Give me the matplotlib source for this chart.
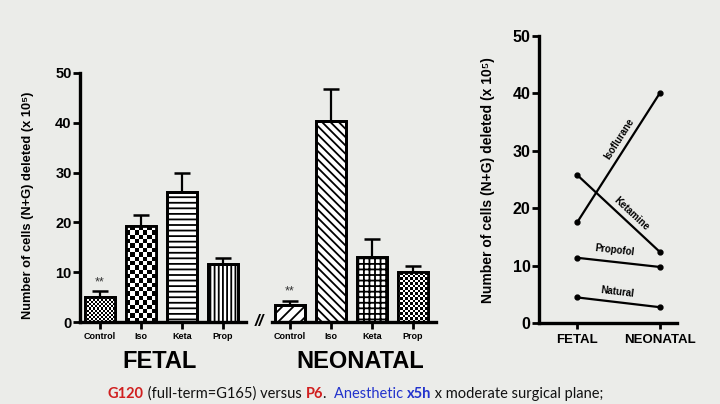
import numpy as np
import matplotlib
matplotlib.use('Agg')
import matplotlib.pyplot as plt

plt.rcParams['font.family'] = ['Liberation Sans', 'DejaVu Sans']
plt.rcParams['font.weight'] = 'bold'
plt.rcParams['axes.labelweight'] = 'bold'
plt.rcParams['hatch.linewidth'] = 1.3

BG = '#ebece9'
W, H = 720, 404

# bar chart data (x 10^5 cells)
groups = ['Control', 'Iso', 'Keta', 'Prop']
fetal_mean = [5.0, 19.2, 26.1, 11.6]
fetal_err = [1.2, 2.3, 3.9, 1.2]
neo_mean = [3.5, 40.3, 13.1, 10.0]
neo_err = [0.8, 6.4, 3.6, 1.2]

# line chart data
stages = ['FETAL', 'NEONATAL']
drugs = ['Natural', 'Propofol', 'Ketamine', 'Isoflurane']
fetal_vals = [4.5, 11.4, 25.8, 17.6]
neo_vals = [2.8, 9.8, 12.4, 40.1]

YLABEL = 'Number of cells (N+G) deleted (x 10\u2075)'

fig = plt.figure(figsize=(W / 100, H / 100), dpi=100, facecolor=BG)


def px_axes(left, right, top, bottom):
    return fig.add_axes([left / W, (H - bottom) / H, (right - left) / W, (bottom - top) / H])


def checker(ax, bar, cell):
    # checkerboard fill clipped to the bar
    ax.figure.canvas.draw()
    x0, h = bar.get_x(), bar.get_height()
    x1 = x0 + bar.get_width()
    p0 = ax.transData.transform((x0, 0))
    p1 = ax.transData.transform((x1, h))
    cols = max(1, int(round((p1[0] - p0[0]) / cell)))
    rows = max(1, int(round((p1[1] - p0[1]) / cell)))
    pat = np.indices((rows, cols)).sum(axis=0) % 2
    im = ax.imshow(pat, cmap='gray', extent=(x0, x1, 0, h), origin='lower',
                   interpolation='nearest', aspect='auto', zorder=2.5)
    im.set_clip_path(bar)


def bar_panel(ax, means, errs, hatches, show_left):
    x = np.arange(len(groups))
    ax.set_facecolor('none')
    ax.set_autoscale_on(False)
    ax.set_ylim(0, 50)
    bars = ax.bar(x, means, width=0.72, color='white', edgecolor='black',
                  linewidth=2.0, zorder=2)
    for b, h in zip(bars, hatches):
        if isinstance(h, str):
            b.set_hatch(h)
    for b, h in zip(bars, hatches):
        if not isinstance(h, str):
            checker(ax, b, h)
    ax.bar(x, means, width=0.72, fill=False, edgecolor='black', linewidth=2.0, zorder=3)
    ax.errorbar(x, means, yerr=[np.zeros(len(errs)), errs], fmt='none', ecolor='black',
                elinewidth=1.6, capsize=5.5, capthick=1.8, zorder=1)
    ax.annotate('**', (x[0], means[0] + errs[0]), xytext=(0, 2), textcoords='offset points',
                ha='center', va='bottom', fontsize=9, fontweight='normal', color='#333333')
    ax.set_xticks(x)
    ax.set_xticklabels(groups)
    for s in ['top', 'right']:
        ax.spines[s].set_visible(False)
    ax.spines['bottom'].set_linewidth(2.4)
    ax.spines['left'].set_linewidth(2.4)
    ax.tick_params(axis='x', length=5, width=2, pad=2, labelsize=6.5)
    ax.tick_params(axis='y', length=5, width=2, pad=1, labelsize=10.5)
    ax.set_yticks(range(0, 51, 10))
    if not show_left:
        ax.spines['left'].set_visible(False)
        ax.tick_params(axis='y', left=False, labelleft=False)


# fetal bars
ax1 = px_axes(80, 246, 73, 322)
ax1.set_xlim(-0.488, 3.56)
bar_panel(ax1, fetal_mean, fetal_err, [2.0, 4.3, '---', '||||'], True)
ax1.set_ylabel(YLABEL, fontsize=9.3)
ax1.yaxis.set_label_coords(-0.28, 0.47)

# neonatal bars
ax2 = px_axes(272, 436, 73, 322)
ax2.set_xlim(-0.44, 3.56)
bar_panel(ax2, neo_mean, neo_err, ['///', '\\\\\\\\', '+++', 2.5], False)

fig.text(259 / W, 1 - 321 / H, '//', fontsize=12, style='italic', ha='center', va='center')
fig.text(160 / W, 1 - 362 / H, 'FETAL', fontsize=17, ha='center', va='center')
fig.text(360 / W, 1 - 362 / H, 'NEONATAL', fontsize=17, ha='center', va='center')

# line chart
ax3 = px_axes(539, 677, 36, 323.3)
ax3.set_facecolor('none')
ax3.set_xlim(-0.463, 1.206)
ax3.set_ylim(0, 50)
label_pos = {'Natural': (0.48, 4.6), 'Propofol': (0.45, 11.9),
             'Ketamine': (0.62, 18.4), 'Isoflurane': (0.56, 31.6)}
for name, f, n in zip(drugs, fetal_vals, neo_vals):
    ax3.plot([0, 1], [f, n], color='black', lw=1.6, marker='o', ms=3.5)
fig.canvas.draw()
for name, f, n in zip(drugs, fetal_vals, neo_vals):
    p0 = ax3.transData.transform((0, f))
    p1 = ax3.transData.transform((1, n))
    ang = np.degrees(np.arctan2(p1[1] - p0[1], p1[0] - p0[0]))
    ax3.text(*label_pos[name], name, fontsize=7, rotation=ang, rotation_mode='anchor',
             ha='center', va='bottom')
ax3.set_xticks([0, 1])
ax3.set_xticklabels(stages)
ax3.set_yticks(range(0, 51, 10))
for s in ['top', 'right']:
    ax3.spines[s].set_visible(False)
ax3.spines['bottom'].set_linewidth(2.4)
ax3.spines['left'].set_linewidth(2.4)
ax3.tick_params(axis='x', length=4, width=2, pad=4, labelsize=9.5)
ax3.tick_params(axis='y', length=5, width=2, pad=1, labelsize=11.5)
ax3.set_ylabel(YLABEL, fontsize=10)
ax3.yaxis.set_label_coords(-0.32, 0.5)

# caption line at the bottom
pieces = [('G120', '#d01f1f', 'bold'), (' (full-term=G165) versus ', '#111111', 'normal'),
          ('P6', '#d01f1f', 'bold'), ('.  ', '#111111', 'normal'),
          ('Anesthetic ', '#2233cc', 'normal'), ('x5h', '#2233cc', 'bold'),
          (' x moderate surgical plane;', '#111111', 'normal')]
renderer = fig.canvas.get_renderer()
xpos = 108
for txt, col, wt in pieces:
    t = fig.text(xpos / W, 1 - 398 / H, txt, color=col, fontweight=wt, fontsize=10.5,
                 family=['Lato', 'DejaVu Sans'], ha='left', va='baseline')
    xpos += t.get_window_extent(renderer).width

fig.savefig('out.png', dpi=100, facecolor=BG)
